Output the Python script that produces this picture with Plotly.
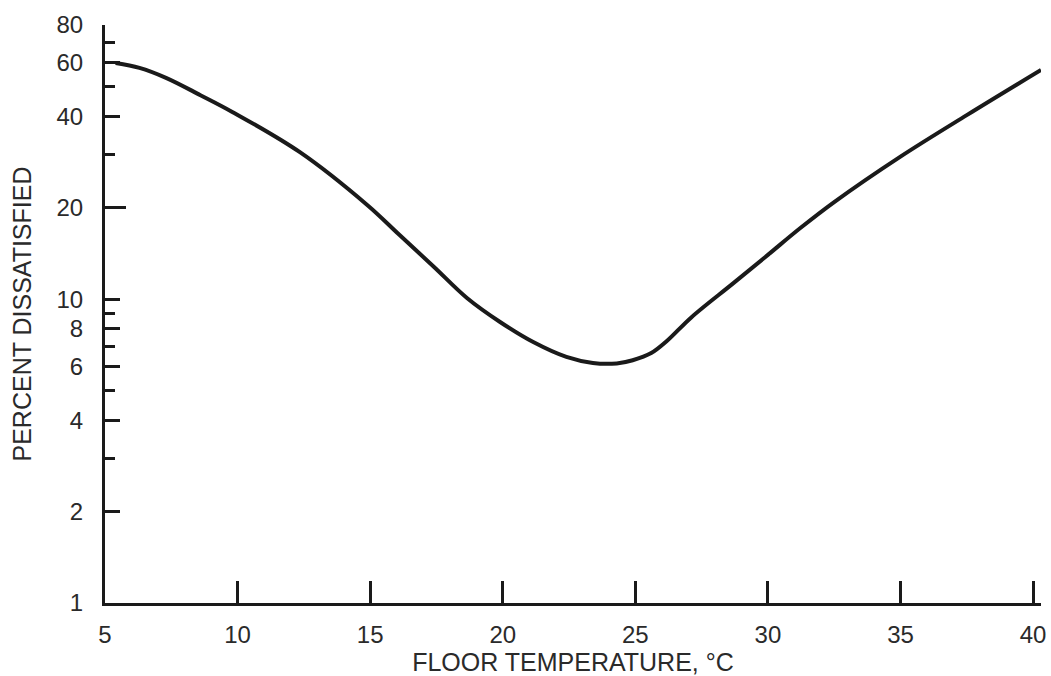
import plotly.graph_objects as go

# Floor temperature (°C) vs. percent dissatisfied
floor_temp = [5.4, 6.3, 7.3, 8.6, 9.8, 12.35, 14.9, 16.1, 17.4, 18.65, 19.9, 21.15,
              22.4, 23.4, 24.3, 24.9, 25.6, 26.2, 27.1, 28.7, 30.0, 31.2, 32.5,
              35.0, 37.5, 40.3]
pct_dissatisfied = [60.0, 57.8, 53.6, 47.0, 41.4, 30.5, 20.4, 16.3, 12.8, 10.1, 8.42, 7.23,
                    6.46, 6.17, 6.15, 6.3, 6.65, 7.3, 8.7, 11.3, 14.0, 17.1, 20.9,
                    29.5, 40.4, 56.9]

x_ticks = [5, 10, 15, 20, 25, 30, 35, 40]
y_major = [1, 2, 4, 6, 8, 10, 20, 40, 60, 80]
y_minor = [3, 5, 7, 9, 30, 50, 70]
y_long = [20]

FONT = "Liberation Sans, Arial, sans-serif"
INK = "#1a1a1a"
TXT = "#2a2a2a"
Y_RANGE = [0, 1.90309]

fig = go.Figure()
fig.add_trace(go.Scatter(
    x=floor_temp, y=pct_dissatisfied, mode="lines",
    line=dict(color=INK, width=4, shape="spline", smoothing=1.0),
    hoverinfo="skip", showlegend=False,
))
# empty trace so the overlay axis carrying the long tick is drawn
fig.add_trace(go.Scatter(x=[], y=[], yaxis="y2", showlegend=False, hoverinfo="skip"))

fig.update_layout(
    width=1051, height=676,
    margin=dict(l=105, r=10, t=25, b=73),
    paper_bgcolor="white", plot_bgcolor="white",
    font=dict(family=FONT, color=TXT, size=24),
    xaxis=dict(
        range=[5, 40.3], tickmode="array", tickvals=x_ticks,
        ticktext=[str(v) for v in x_ticks],
        ticks="inside", ticklen=22, tickwidth=3, tickcolor=INK,
        showline=True, linewidth=3, linecolor=INK,
        showgrid=False, zeroline=False, automargin=False,
        tickfont=dict(size=24, color=TXT), ticklabelstandoff=8,
        title=dict(text="FLOOR TEMPERATURE, °C", font=dict(size=25, color=TXT), standoff=7),
    ),
    yaxis=dict(
        type="log", range=Y_RANGE, tickmode="array", tickvals=y_major,
        ticktext=[str(v) for v in y_major],
        ticks="inside", ticklen=15, tickwidth=3, tickcolor=INK,
        showline=True, linewidth=3, linecolor=INK,
        showgrid=False, zeroline=False, automargin=False,
        minor=dict(tickmode="array", tickvals=y_minor, ticks="inside",
                   ticklen=10, tickwidth=3, tickcolor=INK, showgrid=False),
        tickfont=dict(size=24, color=TXT), ticklabelstandoff=14,
        title=dict(text="PERCENT DISSATISFIED", font=dict(size=25, color=TXT), standoff=18),
    ),
    yaxis2=dict(
        type="log", range=Y_RANGE, overlaying="y", side="left",
        tickmode="array", tickvals=y_long, showticklabels=False,
        ticks="inside", ticklen=21, tickwidth=3, tickcolor=INK,
        showline=False, showgrid=False, zeroline=False, automargin=False,
    ),
)

fig.write_html("out.html")
